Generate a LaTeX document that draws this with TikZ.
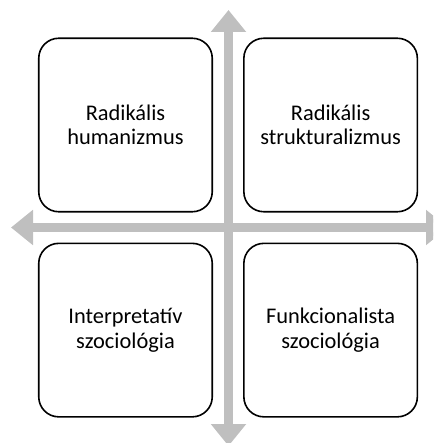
\documentclass[tikz,border=0pt]{standalone}
\usepackage{fontspec}
\setmainfont{Carlito}
\usetikzlibrary{positioning,arrows.meta}
\definecolor{AxisGray}{RGB}{191,191,191}

\begin{document}
\begin{tikzpicture}[x=1pt, y=-1pt, node distance=30pt,
    quadrant/.style={draw=black, line width=1.6pt, rounded corners=20pt, fill=white,
      minimum width=173.5pt, minimum height=173.5pt, align=center,
      font=\fontsize{22.4}{24.5}\selectfont},
    axis/.style={draw=AxisGray, line width=9pt,
      {Triangle[width=34pt,length=22pt]}-{Triangle[width=34pt,length=22pt]}}]
  \useasboundingbox (0,0) rectangle (433,443);
  \clip (0,0) rectangle (433,443);
  % axes
  \coordinate (north end) at (228.5,10);
  \coordinate (south end) at (228.5,446);
  \coordinate (west end) at (11,227.5);
  \coordinate (east end) at (448,227.5);
  \draw[axis] (north end) -- (south end);
  \draw[axis] (west end) -- (east end);
  % quadrants
  \node[quadrant] (radhum) at (125.5,125) {Radikális\\humanizmus};
  \node[quadrant, right=of radhum] (radstr) {Radikális\\strukturalizmus};
  \node[quadrant, below=of radhum] (intszoc) {Interpretatív\\szociológia};
  \node[quadrant, right=of intszoc] (funszoc) {Funkcionalista\\szociológia};
\end{tikzpicture}
\end{document}
